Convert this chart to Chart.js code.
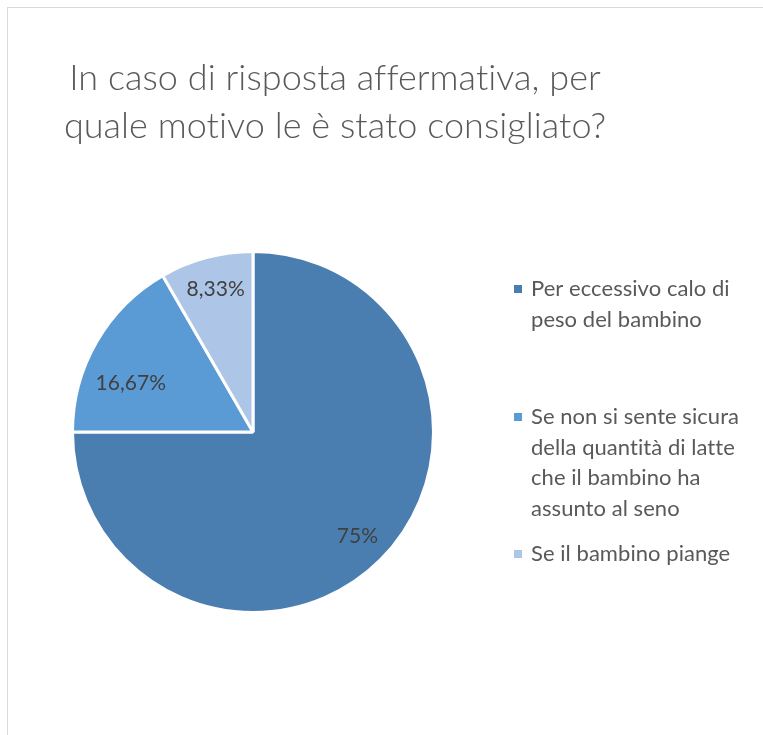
<!DOCTYPE html>
<html lang="it">
<head>
<meta charset="utf-8">
<title>Motivo del consiglio</title>
<script src="https://cdn.jsdelivr.net/npm/chart.js@4/dist/chart.umd.min.js"></script>
<style>
  html, body { margin: 0; padding: 0; background: #ffffff; overflow: hidden; width: 763px; height: 735px; }
  #frame {
    position: absolute; left: 7px; top: 7px; width: 770px; height: 740px;
    border: 1px solid #d9d9d9; box-sizing: border-box;
  }
  #wrap { position: absolute; left: 0; top: 0; width: 763px; height: 735px; }
</style>
</head>
<body>
<div id="frame"></div>
<div id="wrap"><canvas id="chart" width="763" height="735"></canvas></div>
<script>
// Chart title (two lines)
const titleLines = [
  "In caso di risposta affermativa, per",
  "quale motivo le è stato consigliato?"
];

// Categories, already split into the lines shown in the legend
const categories = [
  ["Per eccessivo calo di", "peso del bambino"],
  ["Se non si sente sicura", "della quantità di latte", "che il bambino ha", "assunto al seno"],
  ["Se il bambino piange"]
];

// Share of answers, in percent
const values = [75, 16.67, 8.33];

// Percent labels as printed on the slices
const valueLabels = ["75%", "16,67%", "8,33%"];

const sliceColors = ["#4a7eb0", "#5b9bd5", "#adc6e8"];

const FONT = "Lato, 'Open Sans', sans-serif";

// Draws the title, the wrapped legend and the percent labels
const decorPlugin = {
  id: "decor",
  afterDraw(chart, args, opts) {
    const ctx = chart.ctx;
    ctx.save();
    // a tiny letter spacing keeps the "ti" ligature from forming
    if ("letterSpacing" in ctx) ctx.letterSpacing = "0.05px";

    // title
    ctx.fillStyle = "#595959";
    ctx.font = "300 36px " + FONT;
    ctx.textAlign = "center";
    ctx.textBaseline = "middle";
    titleLines.forEach((line, i) => {
      ctx.fillText(line, opts.titleX, opts.titleY + i * opts.titleLineHeight);
    });

    // legend
    ctx.font = "22px " + FONT;
    ctx.textAlign = "left";
    const ds = chart.data.datasets[0];
    chart.data.labels.forEach((lines, i) => {
      const y0 = opts.legendY[i];
      ctx.fillStyle = ds.backgroundColor[i];
      ctx.fillRect(opts.legendX, y0 - 4, 8, 8);
      ctx.fillStyle = "#595959";
      lines.forEach((line, j) => {
        ctx.fillText(line, opts.legendX + 17, y0 + j * opts.legendLineHeight);
      });
    });

    // percent labels inside the slices
    ctx.font = "21px " + FONT;
    ctx.textAlign = "center";
    ctx.fillStyle = "#404040";
    const meta = chart.getDatasetMeta(0);
    meta.data.forEach((arc, i) => {
      const p = arc.getProps(["x", "y", "startAngle", "endAngle", "outerRadius"], true);
      const mid = (p.startAngle + p.endAngle) / 2;
      const r = p.outerRadius * opts.labelRadius[i];
      ctx.fillText(valueLabels[i], p.x + Math.cos(mid) * r + opts.labelShift[i][0],
                   p.y + Math.sin(mid) * r + opts.labelShift[i][1]);
    });

    ctx.restore();
  }
};

new Chart(document.getElementById("chart"), {
  type: "pie",
  data: {
    labels: categories,
    datasets: [{
      data: values,
      backgroundColor: sliceColors,
      borderColor: "#ffffff",
      borderWidth: 3
    }]
  },
  options: {
    responsive: false,
    animation: false,
    rotation: 0,
    layout: { padding: { left: 71, top: 250, right: 328, bottom: 121 } },
    plugins: {
      legend: { display: false },
      title: { display: false },
      tooltip: { enabled: false },
      decor: {
        titleX: 335, titleY: 78, titleLineHeight: 48,
        legendX: 514, legendY: [289, 417, 554], legendLineHeight: 30.5,
        labelRadius: [0.81, 0.75, 0.8],
        labelShift: [[1, 1], [-5, 19], [0, -3]]
      }
    }
  },
  plugins: [decorPlugin]
});
</script>
</body>
</html>
